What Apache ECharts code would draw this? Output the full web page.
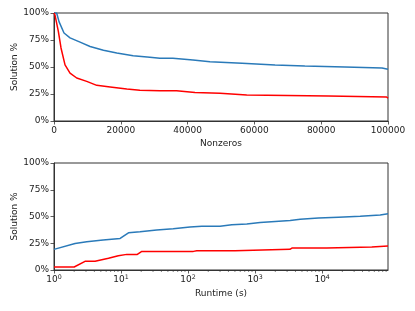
<!DOCTYPE html>
<html><head><meta charset="utf-8">
<script src="https://cdn.jsdelivr.net/npm/echarts@6/dist/echarts.min.js"></script>
<style>html,body{margin:0;padding:0;background:#fff}#c{width:415px;height:311px}</style>
</head><body><div id="c"></div>
<script>
// Top panel: solution % vs nonzeros
const nnzBlue = [[0,100],[800,100],[1500,92],[3000,81.5],[4800,77],[7800,73],[10800,69],[14800,65.5],[18800,63],[23700,60.5],[28700,59],[31700,58],[35600,58],[35600,56.5],[41600,56.5],[41600,54.9],[46700,54.9],[46700,53.4],[56300,53.4],[56300,51.9],[66200,51.9],[66200,50.9],[75100,50.9],[75100,50],[87100,50],[87100,49.1],[98200,49.1],[98200,47.9],[100000,47.9]];
const nnzRed = [[0,100],[300,98],[1300,83],[2100,67.6],[3300,52],[4800,44.4],[6800,39.8],[9800,36.7],[12800,33],[16800,31.5],[21800,29.6],[25700,28.4],[31700,28.1],[36700,28],[36700,26.5],[42200,26.5],[42200,25.6],[49700,25.6],[49700,24.1],[57700,24.1],[57700,23.1],[82100,23.1],[82100,22.2],[99600,22.2],[100000,21]];
// Bottom panel: solution % vs runtime (s)
const rtBlue = [[1,19.3],[2.06,24.8],[3.08,26.4],[5.4,28],[9.7,29.5],[12.9,34.8],[19.2,35.7],[34,37.3],[60,38.5],[107,40.2],[160,41],[300,41],[300,42.2],[449,42.2],[449,43.1],[752,43.1],[752,44.4],[1188,44.4],[1188,45.4],[1990,45.4],[1990,46.3],[3330,46.3],[3330,47.5],[4700,47.5],[4700,48.5],[8810,48.5],[8810,49.4],[17500,49.4],[17500,50.3],[36900,50.3],[36900,51.5],[73400,51.5],[73400,52.5],[96000,52.5]];
const rtRed = [[1,2.8],[2,2.8],[2.9,8.1],[4.1,8.1],[6.5,10.9],[9.1,13.4],[12.2,14.6],[17.5,14.6],[20.4,17.4],[120,17.4],[135,18],[500,18],[530,19.3],[3300,19.3],[3540,20.5],[11700,20.5],[12400,21.4],[55000,21.4],[58500,22.4],[96000,22.4]];
const nnzTicks = [0, 20000, 40000, 60000, 80000, 100000];
const yTicks = [0, 25, 50, 75, 100];
const rtMax = 96000;
const minorTicks = [];
for (let d = 1; d <= 10000; d *= 10) for (let m = 2; m <= 9; m++) if (d*m < rtMax) minorTicks.push([d*m, 0]);

const FONT = 'DejaVu Sans';
const FS = 9;
const AX = '#333';
const txt = '#222';
function yAxisCfg(gi){
  return {type:'value', gridIndex:gi, min:yTicks[0], max:yTicks[yTicks.length-1], interval:yTicks[1]-yTicks[0],
    name:'Solution %', nameLocation:'middle', nameGap:35, nameMoveOverlap:false,
    nameTextStyle:{fontFamily:FONT, fontSize:FS, color:txt},
    axisLine:{show:true, lineStyle:{color:AX, width:1}},
    axisTick:{show:true, length:3.5, lineStyle:{color:AX, width:0.8}},
    axisLabel:{formatter:'{value}%', fontFamily:FONT, fontSize:FS, color:txt, margin:5},
    splitLine:{show:false}};
}
const blue = '#2a7ab9', red = '#ff0000';
const option = {
  animation:false,
  grid:[
    {left:54, top:13, width:334, height:108, show:true, borderColor:AX, borderWidth:1, outerBoundsMode:'none', containLabel:false},
    {left:54, top:163, width:334, height:107, show:true, borderColor:AX, borderWidth:1, outerBoundsMode:'none', containLabel:false}
  ],
  xAxis:[
    {type:'value', gridIndex:0, min:nnzTicks[0], max:nnzTicks[nnzTicks.length-1], interval:nnzTicks[1]-nnzTicks[0],
     name:'Nonzeros', nameLocation:'middle', nameGap:18,
     nameTextStyle:{fontFamily:FONT, fontSize:FS, color:txt},
     axisLine:{show:true, onZero:false, lineStyle:{color:AX, width:1}},
     axisTick:{show:true, length:3.5, lineStyle:{color:AX, width:0.8}},
     axisLabel:{fontFamily:FONT, fontSize:FS, color:txt, margin:5, formatter:function(v){return String(v);}},
     splitLine:{show:false}},
    {type:'log', logBase:10, gridIndex:1, min:1, max:rtMax,
     name:'Runtime (s)', nameLocation:'middle', nameGap:19,
     nameTextStyle:{fontFamily:FONT, fontSize:FS, color:txt},
     axisLine:{show:true, onZero:false, lineStyle:{color:AX, width:1}},
     axisTick:{show:true, length:3.5, lineStyle:{color:AX, width:0.8}},
     axisLabel:{fontFamily:FONT, color:txt, margin:4, showMaxLabel:false,
       formatter:function(v){ const e = Math.round(Math.log10(v)); if (Math.abs(Math.log10(v)-e) > 0.01) return ''; return '{b|10}{s|' + e + '}'; },
       rich:{b:{fontFamily:FONT, fontSize:FS, color:txt}, s:{fontFamily:FONT, fontSize:6.3, color:txt, padding:[0,0,5,0]}}},
     splitLine:{show:false}}
  ],
  yAxis:[yAxisCfg(0), yAxisCfg(1)],
  series:[
    {type:'line', xAxisIndex:0, yAxisIndex:0, data:nnzBlue, showSymbol:false, lineStyle:{color:blue, width:1.5}, itemStyle:{color:blue}},
    {type:'line', xAxisIndex:0, yAxisIndex:0, data:nnzRed, showSymbol:false, lineStyle:{color:red, width:1.5}, itemStyle:{color:red}},
    {type:'line', xAxisIndex:1, yAxisIndex:1, data:rtBlue, showSymbol:false, lineStyle:{color:blue, width:1.5}, itemStyle:{color:blue}},
    {type:'line', xAxisIndex:1, yAxisIndex:1, data:rtRed, showSymbol:false, lineStyle:{color:red, width:1.5}, itemStyle:{color:red}},
    {type:'custom', xAxisIndex:1, yAxisIndex:1, data:minorTicks, clip:false, silent:true,
     renderItem:function(params, api){
       const p = api.coord([api.value(0), 0]);
       return {type:'line', shape:{x1:p[0], y1:p[1], x2:p[0], y2:p[1]+2}, style:{stroke:AX, lineWidth:0.6}};
     }}
  ]
};
const chart = echarts.init(document.getElementById('c'), null, {renderer:'canvas'});
chart.setOption(option);
</script></body></html>
